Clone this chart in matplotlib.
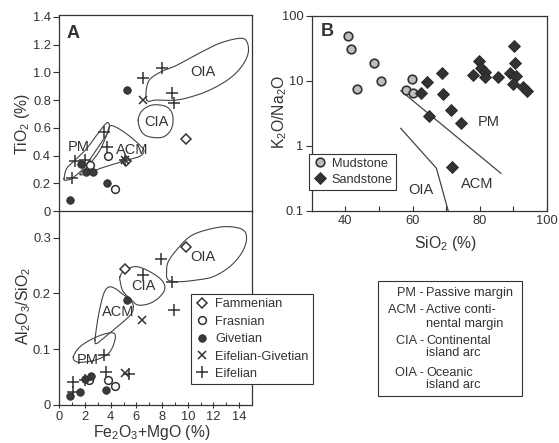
import numpy as np
import matplotlib
matplotlib.use('Agg')
import matplotlib.pyplot as plt
from matplotlib.lines import Line2D
from matplotlib.patches import Rectangle
from matplotlib.ticker import FixedLocator, FuncFormatter, NullLocator

plt.rcParams['font.family'] = ['Liberation Sans', 'DejaVu Sans']
plt.rcParams['mathtext.default'] = 'regular'

INK = '#333333'

# ---------------- Panel A (upper): TiO2 vs Fe2O3+MgO ----------------
fam_ti_x = [9.9, 5.2]
fam_ti_y = [0.52, 0.36]
fras_ti_x = [2.4, 3.8, 4.3]
fras_ti_y = [0.33, 0.40, 0.16]
giv_ti_x = [5.3, 1.7, 2.1, 2.6, 3.7, 0.8]
giv_ti_y = [0.87, 0.34, 0.28, 0.28, 0.20, 0.08]
eg_ti_x = [6.5, 5.15]
eg_ti_y = [0.80, 0.37]
eif_ti_x = [6.5, 8.0, 8.8, 8.9, 3.5, 3.7, 1.2, 2.0, 1.0, 5.1]
eif_ti_y = [0.96, 1.03, 0.85, 0.78, 0.57, 0.46, 0.36, 0.37, 0.24, 0.37]

# field outlines (upper A)
oia_ti_x = [6.8, 6.92, 7.83, 9.13, 10.94, 12.5, 14.05, 14.6, 14.7, 14.18, 13.27, 11.98, 10.68, 9.13, 7.57]
oia_ti_y = [0.80, 0.93, 1.00, 1.05, 1.14, 1.21, 1.245, 1.22, 1.136, 1.04, 0.956, 0.884, 0.835, 0.80, 0.80]
cia_ti_x = [6.14, 6.48, 7.31, 8.35, 8.82, 8.74, 8.09, 7.05, 6.41]
cia_ti_y = [0.655, 0.727, 0.765, 0.751, 0.691, 0.595, 0.534, 0.534, 0.570]
pm_ti_x = [0.37, 0.57, 1.22, 2.13, 2.91, 3.63, 3.89, 3.81, 3.30, 2.78, 2.26, 1.74, 0.96, 0.44]
pm_ti_y = [0.234, 0.306, 0.366, 0.45, 0.547, 0.631, 0.626, 0.57, 0.498, 0.426, 0.354, 0.294, 0.234, 0.222]
acm_ti_x = [1.61, 2.39, 3.16, 3.68, 3.94, 4.46, 5.37, 6.28, 6.59, 6.28, 5.24, 4.2, 3.16, 2.13]
acm_ti_y = [0.265, 0.342, 0.438, 0.547, 0.612, 0.602, 0.547, 0.474, 0.433, 0.395, 0.366, 0.337, 0.306, 0.27]

# ---------------- Panel A (lower): Al2O3/SiO2 vs Fe2O3+MgO ----------------
fam_al_x = [9.85, 5.1]
fam_al_y = [0.284, 0.244]
fras_al_x = [2.35, 3.8, 4.3]
fras_al_y = [0.044, 0.045, 0.034]
giv_al_x = [5.3, 0.8, 1.6, 2.0, 2.5, 3.65]
giv_al_y = [0.189, 0.016, 0.023, 0.046, 0.052, 0.027]
eg_al_x = [6.45, 5.1]
eg_al_y = [0.153, 0.057]
eif_al_x = [7.95, 6.5, 8.8, 8.95, 3.5, 3.65, 1.05, 2.0, 1.05, 5.4]
eif_al_y = [0.261, 0.233, 0.221, 0.170, 0.089, 0.059, 0.041, 0.044, 0.023, 0.056]

oia_al_x = [8.35, 8.48, 9.13, 10.16, 11.46, 13.02, 14.31, 14.57, 14.18, 13.27, 11.98, 10.68, 9.39, 8.48]
oia_al_y = [0.239, 0.257, 0.278, 0.302, 0.314, 0.320, 0.314, 0.296, 0.272, 0.248, 0.230, 0.224, 0.221, 0.224]
cia_al_x = [4.72, 5.11, 6.02, 7.05, 7.96, 8.22, 7.83, 7.05, 6.14, 5.63, 4.98, 4.77]
cia_al_y = [0.230, 0.242, 0.248, 0.239, 0.224, 0.209, 0.194, 0.182, 0.179, 0.188, 0.203, 0.218]
acm_al_x = [2.78, 3.03, 3.42, 3.81, 4.33, 4.85, 5.37, 5.75, 5.63, 4.98, 4.2, 3.42, 2.91]
acm_al_y = [0.116, 0.158, 0.197, 0.211, 0.209, 0.200, 0.191, 0.179, 0.164, 0.149, 0.134, 0.119, 0.110]
pm_al_x = [1.09, 1.61, 2.64, 3.68, 4.28, 4.33, 3.94, 3.16, 2.13, 1.35]
pm_al_y = [0.086, 0.104, 0.119, 0.128, 0.128, 0.116, 0.095, 0.083, 0.077, 0.077]

# ---------------- Panel B: K2O/Na2O vs SiO2 ----------------
mud_sio2 = [40.7, 41.7, 48.6, 50.6, 43.6, 59.9, 58.2, 60.2]
mud_ratio = [48.7, 30.8, 18.9, 9.9, 7.4, 10.7, 7.1, 6.5]
sand_sio2 = [62.5, 64.2, 64.8, 68.9, 69.1, 71.4, 74.4, 71.8, 78.0, 79.8, 80.3,
             81.5, 81.7, 85.5, 90.2, 90.4, 89.0, 90.7, 89.9, 92.9, 94.1]
sand_ratio = [6.4, 9.5, 2.9, 13.0, 6.2, 3.6, 2.2, 0.47, 12.1, 20.0, 15.8,
              13.7, 11.3, 11.3, 34.5, 18.5, 13.3, 11.8, 8.9, 7.9, 6.9]
pm_acm_x = [56.5, 86.3]
pm_acm_y = [7.0, 0.376]
acm_oia_x = [56.5, 67.1, 70.6]
acm_oia_y = [1.85, 0.45, 0.1]

age_labels = ['Fammenian', 'Frasnian', 'Givetian', 'Eifelian-Givetian', 'Eifelian']
rock_labels = ['Mudstone', 'Sandstone']
key_abbr = ['PM -', 'ACM -', 'CIA -', 'OIA -']
key_text = [['Passive margin'], ['Active conti-', 'nental margin'],
            ['Continental', 'island arc'], ['Oceanic', 'island arc']]

W, H = 559, 443


def fx(px):
    return px / W


def fy(py):
    return 1 - py / H


def smooth_closed(xs, ys, n=24):
    pts = np.column_stack([xs, ys]).astype(float)
    P = len(pts)
    t = np.linspace(0, 1, n, endpoint=False)[:, None]
    segs = []
    for i in range(P):
        p0, p1, p2, p3 = pts[(i - 1) % P], pts[i], pts[(i + 1) % P], pts[(i + 2) % P]
        seg = 0.5 * ((2 * p1) + (-p0 + p2) * t + (2 * p0 - 5 * p1 + 4 * p2 - p3) * t ** 2
                     + (-p0 + 3 * p1 - 3 * p2 + p3) * t ** 3)
        segs.append(seg)
    segs.append(pts[:1])
    out = np.vstack(segs)
    return out[:, 0], out[:, 1]


fig = plt.figure(figsize=(W / 100, H / 100), dpi=100)
axT = fig.add_axes([fx(59.3), fy(211), (252 - 59.3) / W, (211 - 15) / H])
axL = fig.add_axes([fx(59.3), fy(404.7), (252 - 59.3) / W, (404.7 - 211) / H])
axK = fig.add_axes([fx(311.7), fy(210.7), (547 - 311.7) / W, 195 / H])

for ax in (axT, axL, axK):
    for s in ax.spines.values():
        s.set_linewidth(0.9)
        s.set_color(INK)
    ax.tick_params(colors=INK, labelcolor=INK, labelsize=9.3, width=0.8)

mk = dict(linestyle='none')
fam_style = dict(marker='D', ms=5.2, mfc='white', mec=INK, mew=1.1, **mk)
fras_style = dict(marker='o', ms=5.6, mfc='white', mec=INK, mew=1.1, **mk)
giv_style = dict(marker='o', ms=5.4, mfc='#3a3a3a', mec='#2a2a2a', mew=0.6, **mk)
eg_style = dict(marker='x', ms=5.8, mec=INK, mew=1.1, **mk)
eif_style = dict(marker='+', ms=8.5, mec=INK, mew=1.1, **mk)
field_kw = dict(color='#444444', lw=0.8)


def draw_fields(ax, fields):
    for xs, ys in fields:
        sx, sy = smooth_closed(xs, ys)
        ax.plot(sx, sy, **field_kw)


# ---- upper A
draw_fields(axT, [(oia_ti_x, oia_ti_y), (cia_ti_x, cia_ti_y),
                  (pm_ti_x, pm_ti_y), (acm_ti_x, acm_ti_y)])
axT.plot(fam_ti_x, fam_ti_y, **fam_style)
axT.plot(fras_ti_x, fras_ti_y, **fras_style)
axT.plot(giv_ti_x, giv_ti_y, **giv_style)
axT.plot(eg_ti_x, eg_ti_y, **eg_style)
axT.plot(eif_ti_x, eif_ti_y, **eif_style)
axT.set_xlim(0, 15)
axT.set_ylim(0, 1.413)
axT.tick_params(axis='x', bottom=False, labelbottom=False)
axT.yaxis.set_major_locator(FixedLocator(np.arange(0, 1.41, 0.2)))
axT.yaxis.set_major_formatter(FuncFormatter(lambda v, p: '0' if abs(v) < 1e-9 else f'{v:.1f}'))
axT.tick_params(axis='y', direction='out', length=4, pad=2)
axT.spines['bottom'].set_visible(False)
axT.text(0.071, 0.908, 'A', transform=axT.transAxes, fontsize=13, fontweight='bold',
         ha='center', va='center', color=INK)
for lab, x, y in [('OIA', 11.2, 1.0), ('CIA', 7.55, 0.64), ('PM', 1.48, 0.46), ('ACM', 5.64, 0.44)]:
    axT.text(x, y, lab, fontsize=10.5, ha='center', va='center', color=INK)

# ---- lower A
draw_fields(axL, [(oia_al_x, oia_al_y), (cia_al_x, cia_al_y),
                  (acm_al_x, acm_al_y), (pm_al_x, pm_al_y)])
h_fam, = axL.plot(fam_al_x, fam_al_y, **fam_style)
h_fras, = axL.plot(fras_al_x, fras_al_y, **fras_style)
h_giv, = axL.plot(giv_al_x, giv_al_y, **giv_style)
h_eg, = axL.plot(eg_al_x, eg_al_y, **eg_style)
h_eif, = axL.plot(eif_al_x, eif_al_y, **eif_style)
axL.set_xlim(0, 15)
axL.set_ylim(0, 0.348)
axL.xaxis.set_major_locator(FixedLocator(np.arange(0, 15, 2)))
axL.xaxis.set_minor_locator(FixedLocator(np.arange(1, 15, 2)))
axL.yaxis.set_major_locator(FixedLocator([0, 0.1, 0.2, 0.3]))
axL.yaxis.set_major_formatter(FuncFormatter(lambda v, p: '0' if abs(v) < 1e-9 else f'{v:.1f}'))
axL.tick_params(axis='x', which='major', direction='inout', length=5, pad=2)
axL.tick_params(axis='x', which='minor', direction='in', length=2.5, width=0.7, colors=INK)
axL.tick_params(axis='y', direction='out', length=4, pad=2)
for lab, x, y in [('OIA', 11.2, 0.265), ('CIA', 6.55, 0.213), ('ACM', 4.6, 0.167), ('PM', 2.25, 0.080)]:
    axL.text(x, y, lab, fontsize=10.5, ha='center', va='center', color=INK)

# ---- panel B
axK.set_yscale('log')
axK.plot(pm_acm_x, pm_acm_y, color='#444444', lw=0.9)
axK.plot(acm_oia_x, acm_oia_y, color='#444444', lw=0.9)
h_mud, = axK.plot(mud_sio2, mud_ratio, marker='o', ms=6.2, mfc='#bdbdbd', mec=INK, mew=1.2, linestyle='none')
h_sand, = axK.plot(sand_sio2, sand_ratio, marker='D', ms=5.8, mfc='#333333', mec='#262626', mew=0.6, linestyle='none')
axK.set_xlim(30, 100)
axK.set_ylim(0.1, 100)
axK.yaxis.set_major_locator(FixedLocator([0.1, 1, 10, 100]))
axK.yaxis.set_minor_locator(NullLocator())
axK.yaxis.set_major_formatter(FuncFormatter(lambda v, p: f'{v:g}'))
axK.xaxis.set_major_locator(FixedLocator([40, 60, 80, 100]))
axK.xaxis.set_minor_locator(FixedLocator([50, 70, 90]))
axK.tick_params(axis='x', which='both', direction='in', length=3.5, pad=3, width=0.8, colors=INK)
axK.tick_params(axis='y', direction='out', length=4, pad=2)
axK.text(0.064, 0.918, 'B', transform=axK.transAxes, fontsize=13, fontweight='bold',
         ha='center', va='center', color=INK)
for lab, x, y in [('PM', 82.8, 2.34), ('ACM', 79.2, 0.255), ('OIA', 62.4, 0.209)]:
    axK.text(x, y, lab, fontsize=10.5, ha='center', va='center', color=INK)

# ---- axis labels (figure coordinates)
lab_kw = dict(fontsize=11.3, color=INK, ha='center', va='center')
fig.text(fx(22.5), fy(124), 'TiO$_2$ (%)', rotation=90, **lab_kw)
fig.text(fx(24), fy(306), 'Al$_2$O$_3$/SiO$_2$', rotation=90, **lab_kw)
fig.text(fx(152), fy(433), 'Fe$_2$O$_3$+MgO (%)', **lab_kw)
fig.text(fx(279.5), fy(112), 'K$_2$O/Na$_2$O', rotation=90, **lab_kw)
fig.text(fx(445), fy(243), 'SiO$_2$ (%)', **lab_kw)

# ---- legends
legA = fig.legend([h_fam, h_fras, h_giv, h_eg, h_eif], age_labels,
                  loc='upper left', bbox_to_anchor=(fx(191), fy(294)),
                  frameon=True, fancybox=False, edgecolor=INK, framealpha=1,
                  fontsize=9.2, handlelength=1.0, handletextpad=0.55,
                  labelspacing=0.42, borderpad=0.35, borderaxespad=0)
legA.get_frame().set_linewidth(0.8)
for t in legA.get_texts():
    t.set_color(INK)

legB = fig.legend([h_mud, h_sand], rock_labels,
                  loc='upper left', bbox_to_anchor=(fx(309.3), fy(154)),
                  frameon=True, fancybox=False, edgecolor=INK, framealpha=1,
                  fontsize=9.2, handlelength=1.0, handletextpad=0.45,
                  labelspacing=0.32, borderpad=0.3, borderaxespad=0)
legB.get_frame().set_linewidth(0.8)
for t in legB.get_texts():
    t.set_color(INK)

fig.patches.append(Rectangle((fx(378.3), fy(395.7)), (521.7 - 378.3) / W, (395.7 - 280.7) / H,
                             transform=fig.transFigure, fill=False, ec=INK, lw=0.8))
rows = [[293.3], [310, 324.3], [341, 353.3], [372.7, 385]]
for abbr, lines, ys in zip(key_abbr, key_text, rows):
    fig.text(fx(424), fy(ys[0]), abbr, fontsize=9.2, ha='right', va='center', color=INK)
    for line, yy in zip(lines, ys):
        fig.text(fx(426.5), fy(yy), line, fontsize=9.2, ha='left', va='center', color=INK)

fig.savefig('out.png', dpi=100)
